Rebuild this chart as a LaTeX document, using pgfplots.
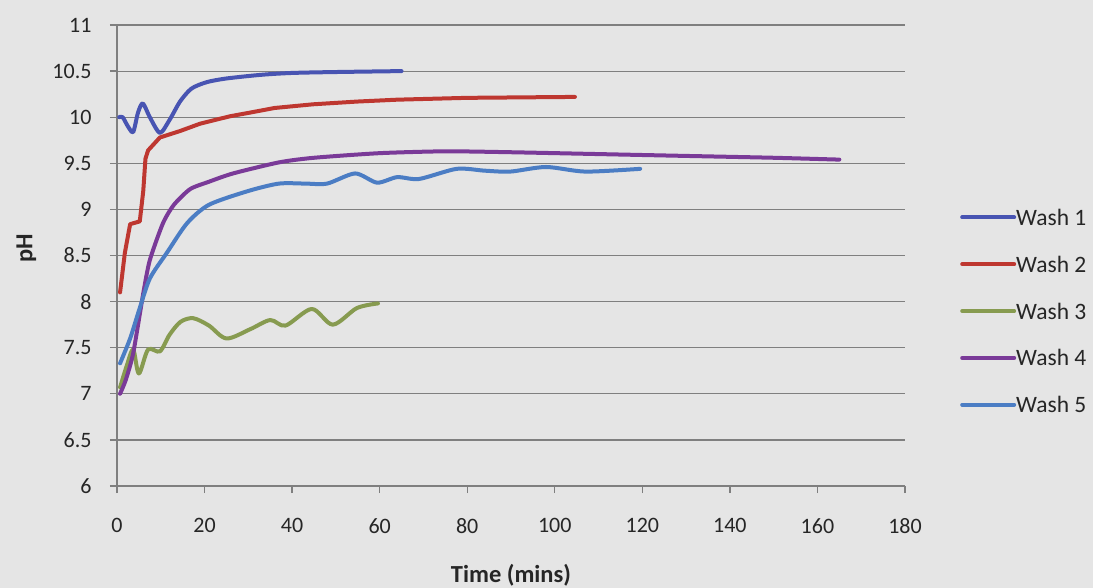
\documentclass[border=0pt]{standalone}
\usepackage{pgfplots}
\pgfplotsset{compat=1.18}
\usepackage{fontspec}
\setmainfont{Carlito}

\definecolor{bg}{HTML}{E5E5E5}
\definecolor{gridc}{HTML}{7F7F7F}
\definecolor{wone}{RGB}{72,84,178}
\definecolor{wtwo}{RGB}{190,55,48}
\definecolor{wthree}{RGB}{135,155,80}
\definecolor{wfour}{RGB}{122,58,152}
\definecolor{wfive}{RGB}{75,125,196}

\begin{document}
\begin{tikzpicture}
\fill[bg] (0pt,0pt) rectangle (1093pt,-588pt);
\begin{axis}[
  at={(117pt,-486pt)}, anchor=south west,
  width=788pt, height=461pt, scale only axis,
  xmin=0, xmax=180, ymin=6, ymax=11,
  xtick={0,20,...,180},
  ytick={6,6.5,...,11},
  axis lines*=left,
  axis line style={gridc, line width=1.3pt},
  tick style={gridc, line width=1.3pt},
  tick align=outside, major tick length=7pt,
  ymajorgrids, grid style={gridc, line width=1.2pt},
  tick label style={font=\fontsize{22}{26}\selectfont, text=black!85},
  /pgf/number format/assume math mode=true,
  /pgf/number format/.cd, fixed, precision=1,
  /pgfplots/.cd,
  xlabel={Time (mins)},
  ylabel={pH},
  label style={font=\fontsize{24.5}{28}\selectfont\bfseries, text=black!85},
  xlabel style={at={(axis description cs:0.5,-0.193)}, anchor=center},
  ylabel style={at={(axis description cs:-0.115,0.515)}, anchor=center, rotate=0},
  xticklabel style={yshift=-22pt},
  yticklabel style={xshift=-15pt},
  every axis plot/.append style={line width=4pt, line join=round, line cap=round},
  legend style={
    at={(axis description cs:1.0698,0.3796)}, anchor=west,
    draw=none, fill=none, inner sep=0pt,
    row sep=30.5pt, font=\fontsize{23.5}{28}\selectfont, text=black!85,
    nodes={inner sep=0pt, text depth=0pt},
  },
  legend cell align=left,
  legend image code/.code={\draw[#1, line width=4pt] (0pt,0pt) -- (52pt,0pt);},
]
% Wash 1
\addplot[wone, smooth, tension=0.45] coordinates {
 (0.5,10.0) (1.3,10.0) (2.5,9.9) (3.7,9.84) (4.8,10.05) (5.9,10.15) (7.5,10.0)
 (9.8,9.83) (12,9.97) (14.4,10.17) (17,10.31) (20.5,10.38) (25,10.42)
 (33,10.46) (40,10.48) (50,10.49) (65,10.5)
};
\addlegendentry{Wash 1}
% Wash 2
\addplot[wtwo] coordinates {
 (0.7,8.10) (1.8,8.53) (3,8.84) (5.2,8.87) (6.0,9.2) (6.5,9.55) (7.1,9.64)
 (9.8,9.78) (14.4,9.85) (19,9.93) (25.8,10.01) (30.4,10.05) (36,10.1)
 (44.8,10.14) (55,10.17) (64,10.19) (80,10.21) (104.6,10.22)
};
\addlegendentry{Wash 2}
% Wash 3
\addplot[wthree, smooth, tension=0.5] coordinates {
 (0.7,7.07) (2.2,7.3) (3.7,7.48) (5,7.22) (7.1,7.48) (9.8,7.46) (12,7.64)
 (14.5,7.78) (17.4,7.82) (21,7.74) (25,7.60) (30.4,7.70) (35,7.80)
 (38.5,7.74) (44.5,7.92) (49.3,7.75) (54.8,7.93) (59.6,7.98)
};
\addlegendentry{Wash 3}
% Wash 4
\addplot[wfour, smooth, tension=0.4] coordinates {
 (0.7,7.0) (2,7.15) (3.7,7.44) (6,8.09) (7.5,8.45) (10.5,8.85) (13,9.05)
 (16.7,9.22) (21,9.3) (26.5,9.39) (37,9.51) (45,9.56) (60,9.61) (75,9.63)
 (90,9.62) (110,9.6) (130,9.58) (150,9.56) (165,9.54)
};
\addlegendentry{Wash 4}
% Wash 5
\addplot[wfive, smooth, tension=0.45] coordinates {
 (0.7,7.33) (3,7.6) (5,7.9) (7.5,8.25) (11.4,8.53) (16,8.85) (21,9.05)
 (30,9.2) (37,9.28) (43,9.28) (48,9.28) (54.4,9.39) (59.4,9.29) (64,9.35)
 (69,9.33) (77.6,9.44) (84,9.42) (89.8,9.41) (98,9.46) (107,9.41)
 (119.5,9.44)
};
\addlegendentry{Wash 5}
\end{axis}
\pgfresetboundingbox
\useasboundingbox (0pt,0pt) rectangle (1093pt,-588pt);
\end{tikzpicture}
\end{document}
